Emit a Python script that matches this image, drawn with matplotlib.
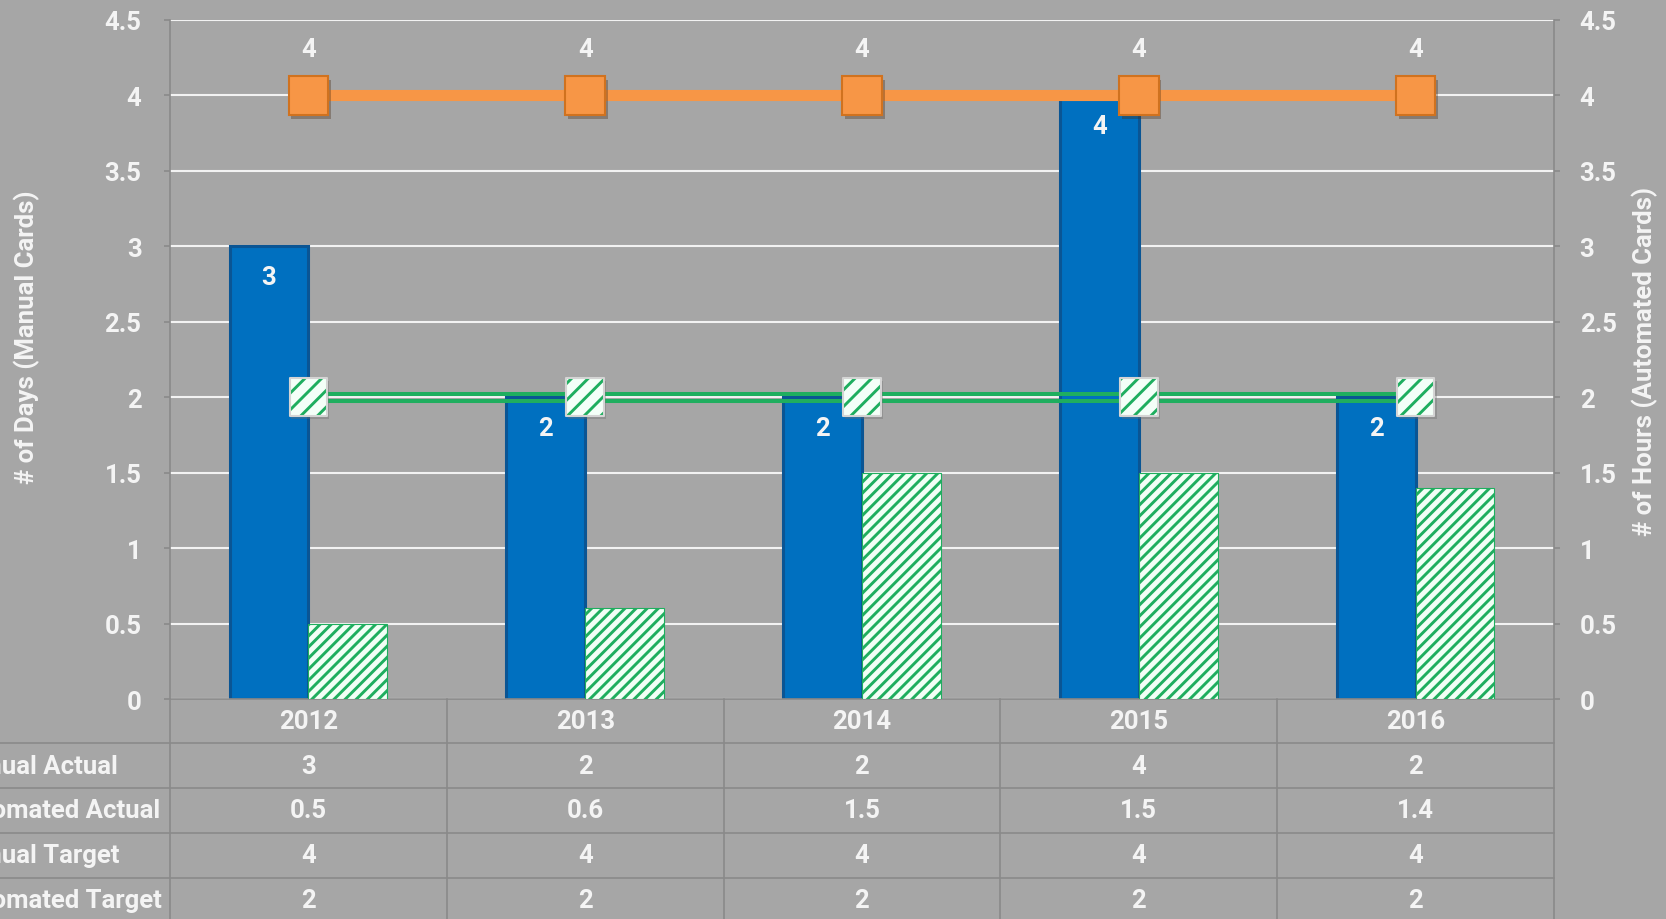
import matplotlib
matplotlib.use('Agg')
import matplotlib.pyplot as plt
import matplotlib.patheffects as pe
import matplotlib.transforms as mtrans
from matplotlib.lines import Line2D
import numpy as np

# ---------------- data ----------------
years = ['2012', '2013', '2014', '2015', '2016']
manual_actual = [3, 2, 2, 4, 2]
automated_actual = [0.5, 0.6, 1.5, 1.5, 1.4]
manual_target = [4, 4, 4, 4, 4]
automated_target = [2, 2, 2, 2, 2]
row_labels = ['Manual Actual', 'Automated Actual', 'Manual Target', 'Automated Target']
y_ticks = [0, 0.5, 1, 1.5, 2, 2.5, 3, 3.5, 4, 4.5]
y_tick_labels = ['0', '0.5', '1', '1.5', '2', '2.5', '3', '3.5', '4', '4.5']

# ---------------- style ----------------
BG = '#a6a6a6'
BLUE = '#0070c0'
GREEN = '#1fae5f'
ORANGE = '#f79646'
TXT = '#f4f4f4'
LINEC = '#8a8a8a'
FS = 18.5
FW = 'bold'

plt.rcParams['font.family'] = ['Roboto', 'DejaVu Sans']
plt.rcParams['hatch.color'] = GREEN
plt.rcParams['hatch.linewidth'] = 2.1

W, H = 1666, 920
fig = plt.figure(figsize=(W / 100, H / 100), dpi=100, facecolor=BG)
ax = fig.add_axes([170 / W, 1 - 700 / H, (1554 - 170) / W, (700 - 21) / H])
ax.set_facecolor(BG)
ax2 = ax.twinx()
ax2.patch.set_visible(False)

x = np.arange(len(years))
w = 0.285

# blue bars (primary axis)
ax.bar(x - w / 2, manual_actual, width=w, color=BLUE, edgecolor='#0a5594',
       linewidth=2.2, zorder=2)
for xi, v in zip(x, manual_actual):
    ax.annotate(f'{v:g}', (xi - w / 2, v), xytext=(0, -31), textcoords='offset pixels',
                ha='center', va='center', color=TXT, fontsize=FS, fontweight=FW, zorder=6)

# orange target line + markers
ax.plot(x, manual_target, color=ORANGE, lw=8, solid_capstyle='butt', zorder=4)
ax.plot(x, manual_target, ls='none', marker='s', ms=28.5, mfc=ORANGE, mec='#d0721f', mew=1.5,
        zorder=5, path_effects=[pe.SimplePatchShadow(offset=(2, -3), alpha=0.35), pe.Normal()])
for xi, v in zip(x, manual_target):
    ax.annotate(f'{v:g}', (xi, v), xytext=(0, 46), textcoords='offset pixels',
                ha='center', va='center', color=TXT, fontsize=FS, fontweight=FW, zorder=6)

# green hatched bars (secondary axis)
ax2.bar(x + w / 2, automated_actual, width=w, facecolor='#f2fff6', edgecolor=GREEN,
        hatch='///', linewidth=0.8, zorder=2)

# green double target line
for dy in (3.5, -3.5):
    tr = ax2.transData + mtrans.ScaledTranslation(0, dy / 100, fig.dpi_scale_trans)
    ax2.plot(x, automated_target, color=GREEN, lw=2.9, solid_capstyle='butt',
             transform=tr, zorder=4)
shadow_tr = ax2.transData + mtrans.ScaledTranslation(2 / 100, -3 / 100, fig.dpi_scale_trans)
ax2.scatter(x, automated_target, marker='s', s=27 ** 2, facecolor='#6a6a6a', alpha=0.35,
            linewidths=0, transform=shadow_tr, zorder=4.5)
ax2.scatter(x, automated_target, marker='s', s=27 ** 2, facecolor='#f4fff8',
            edgecolor=GREEN, linewidths=0, hatch='//', zorder=5)
ax2.scatter(x, automated_target, marker='s', s=27 ** 2, facecolor='none',
            edgecolor='#d4d4d4', linewidths=1.5, zorder=5.1)

# axes formatting
for a, side in ((ax, 'left'), (ax2, 'right')):
    a.set_ylim(0, 4.5)
    a.set_yticks(y_ticks)
    a.set_yticklabels(y_tick_labels)
    for s in a.spines.values():
        s.set_visible(False)
    a.spines[side].set_visible(True)
    a.spines[side].set_color(LINEC)
    a.spines[side].set_linewidth(1.2)
    a.tick_params(axis='y', colors=LINEC, labelcolor=TXT, labelsize=FS, length=4.5,
                  width=1.2, direction='out')
    for lab in a.get_yticklabels():
        lab.set_fontweight(FW)
ax.tick_params(axis='y', pad=16)
ax2.tick_params(axis='y', pad=14)
ax.set_xlim(-0.5, len(years) - 0.5)
ax.set_xticks([])
ax2.set_xticks([])
ax.spines['bottom'].set_visible(True)
ax.spines['bottom'].set_color(LINEC)
ax.spines['bottom'].set_linewidth(1.2)
ax.yaxis.grid(True, color='#f2f2f2', lw=1.5)
ax.set_axisbelow(True)

# axis titles
fig.text(27 / W, 1 - 337 / H, '# of Days (Manual Cards)', rotation=90, ha='center',
         va='center', color=TXT, fontsize=FS, fontweight=FW)
fig.text(1645 / W, 1 - 361 / H, '# of Hours (Automated Cards)', rotation=90, ha='center',
         va='center', color=TXT, fontsize=FS, fontweight=FW)

# ---------------- data table ----------------
bt = mtrans.blended_transform_factory(ax.transData, fig.transFigure)
row_tops = [700, 744, 789, 834, 879, 924]
fy = lambda py: 1 - py / H
# vertical lines
for xb in np.arange(-0.5, len(years), 1.0):
    fig.add_artist(Line2D([xb, xb], [fy(920), fy(700)], color=LINEC, lw=1.2, transform=bt))
# horizontal lines
for py in row_tops[1:5]:
    fig.add_artist(Line2D([-10, len(years) - 0.5], [fy(py), fy(py)], color=LINEC, lw=1.2,
                          transform=bt))
# category row
for xi, yr in zip(x, years):
    fig.text(xi, fy(722), yr, transform=bt, ha='center', va='center', color=TXT,
             fontsize=FS, fontweight=FW)
rows = [manual_actual, automated_actual, manual_target, automated_target]
for r, (lab, vals) in enumerate(zip(row_labels, rows)):
    yc = fy((row_tops[r + 1] + row_tops[r + 2]) / 2)
    fig.text(-49 / W, yc, lab, ha='left', va='center', color=TXT, fontsize=FS,
             fontweight=FW)
    for xi, v in zip(x, vals):
        fig.text(xi, yc, f'{v:g}', transform=bt, ha='center', va='center', color=TXT,
                 fontsize=FS, fontweight=FW)

fig.savefig('out.png', dpi=100, facecolor=BG)
